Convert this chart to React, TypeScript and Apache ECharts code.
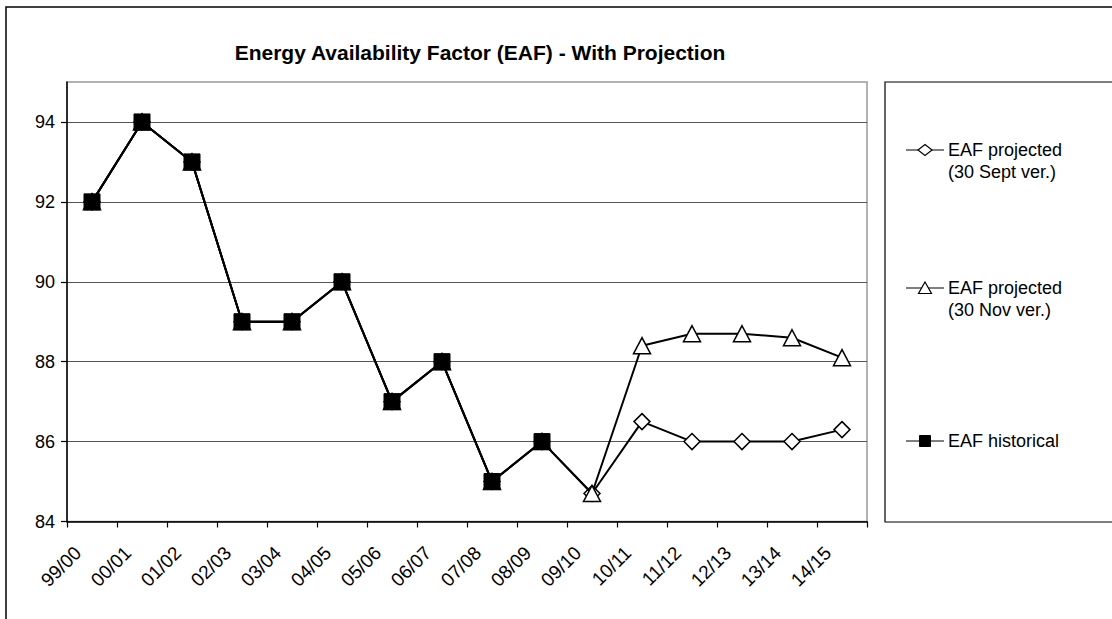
import React, { useEffect, useRef } from "react";
import * as echarts from "echarts";

const categories = ["99/00", "00/01", "01/02", "02/03", "03/04", "04/05", "05/06", "06/07", "07/08", "08/09", "09/10", "10/11", "11/12", "12/13", "13/14", "14/15"];
const historical = [92, 94, 93, 89, 89, 90, 87, 88, 85, 86, null, null, null, null, null, null];
const projectedSept = [92, 94, 93, 89, 89, 90, 87, 88, 85, 86, 84.7, 86.5, 86, 86, 86, 86.3];
const projectedNov = [92, 94, 93, 89, 89, 90, 87, 88, 85, 86, 84.7, 88.4, 88.7, 88.7, 88.6, 88.1];
const yTicks = [84, 86, 88, 90, 92, 94];

const FONT = "'Liberation Sans', Arial, sans-serif";

export default function App() {
  const ref = useRef<HTMLDivElement>(null);
  useEffect(() => {
    if (!ref.current) return;
    const chart = echarts.init(ref.current, null, { renderer: "svg" });
    const legendItems = [
      { y: 150, lines: "EAF projected\n(30 Sept ver.)", symbol: "diamond" },
      { y: 288, lines: "EAF projected\n(30 Nov ver.)", symbol: "triangle" },
      { y: 441, lines: "EAF historical", symbol: "rect" },
    ];
    const lx0 = 906, lx1 = 944, lmx = 925, ltx = 948;
    const legendGraphics: any[] = [];
    legendItems.forEach((it) => {
      legendGraphics.push({ type: "line", shape: { x1: lx0, y1: it.y, x2: lx1, y2: it.y }, style: { stroke: "#000", lineWidth: 1.2 }, z: 10 });
      if (it.symbol === "diamond") {
        legendGraphics.push({ type: "polygon", shape: { points: [[lmx, it.y - 5.5], [lmx + 7, it.y], [lmx, it.y + 5.5], [lmx - 7, it.y]] }, style: { fill: "#fff", stroke: "#000", lineWidth: 1.2 }, z: 11 });
      } else if (it.symbol === "triangle") {
        legendGraphics.push({ type: "polygon", shape: { points: [[lmx, it.y - 6], [lmx + 6.5, it.y + 5.5], [lmx - 6.5, it.y + 5.5]] }, style: { fill: "#fff", stroke: "#000", lineWidth: 1.2 }, z: 11 });
      } else {
        legendGraphics.push({ type: "rect", shape: { x: lmx - 5.5, y: it.y - 5.5, width: 11, height: 11 }, style: { fill: "#000", stroke: "#000" }, z: 11 });
      }
      legendGraphics.push({
        type: "text", x: ltx, y: it.y - 11, z: 11,
        style: { text: it.lines, font: `18px ${FONT}`, fill: "#000", lineHeight: 22, textAlign: "left", textVerticalAlign: "top" },
      });
    });

    chart.setOption({
      animation: false,
      backgroundColor: "#fff",
      title: {
        text: "Energy Availability Factor (EAF) - With Projection",
        left: 475, top: 37, textAlign: "center",
        textStyle: { fontFamily: FONT, fontSize: 21, fontWeight: "bold", color: "#000" },
      },
      grid: { left: 67, top: 82, width: 800, height: 439.5, show: true, borderColor: "#999", borderWidth: 1.5, containLabel: false },
      xAxis: {
        type: "category", data: categories, boundaryGap: true,
        axisLine: { lineStyle: { color: "#000", width: 1.5 } },
        axisTick: { show: true, interval: 0, alignWithLabel: false, length: 6, lineStyle: { color: "#000", width: 1.2 } },
        axisLabel: { interval: 0, rotate: 45, fontSize: 19, fontFamily: FONT, color: "#000", margin: 14, padding: [0, 20, 0, 0] },
        splitLine: { show: false },
      },
      yAxis: {
        type: "value", min: 84, max: 95, interval: 2,
        axisLine: { show: true, lineStyle: { color: "#000", width: 1.5 } },
        axisTick: { show: true, length: 6, lineStyle: { color: "#000", width: 1.2 }, customValues: yTicks },
        axisLabel: { fontSize: 18, fontFamily: FONT, color: "#000", margin: 12, customValues: yTicks },
        splitLine: { show: true, lineStyle: { color: "#555", width: 1.2 } },
      },
      series: [
        {
          name: "EAF projected (30 Sept ver.)", type: "line", data: projectedSept,
          symbol: "diamond", symbolSize: [16, 16], showAllSymbol: true,
          lineStyle: { color: "#000", width: 2 },
          itemStyle: { color: "#fff", borderColor: "#000", borderWidth: 1.5 },
          z: 2,
        },
        {
          name: "EAF projected (30 Nov ver.)", type: "line", data: projectedNov,
          symbol: "triangle", symbolSize: [17, 16], showAllSymbol: true,
          lineStyle: { color: "#000", width: 2 },
          itemStyle: { color: "#fff", borderColor: "#000", borderWidth: 1.5 },
          z: 3,
        },
        {
          name: "EAF historical", type: "line", data: historical,
          symbol: "rect", symbolSize: 16, showAllSymbol: true,
          lineStyle: { color: "#000", width: 2 },
          itemStyle: { color: "#000", borderColor: "#000", borderWidth: 1 },
          z: 4,
        },
      ],
      graphic: [
        { type: "rect", shape: { x: 6, y: 7, width: 1200, height: 700 }, style: { fill: "none", stroke: "#000", lineWidth: 1.5 }, z: 0, silent: true },
        { type: "rect", shape: { x: 885, y: 82, width: 400, height: 440 }, style: { fill: "#fff", stroke: "#000", lineWidth: 1.2 }, z: 1, silent: true },
        ...legendGraphics,
      ],
    });
    return () => chart.dispose();
  }, []);
  return <div ref={ref} style={{ position: "absolute", left: 0, top: 0, width: 1112, height: 619 }} />;
}
